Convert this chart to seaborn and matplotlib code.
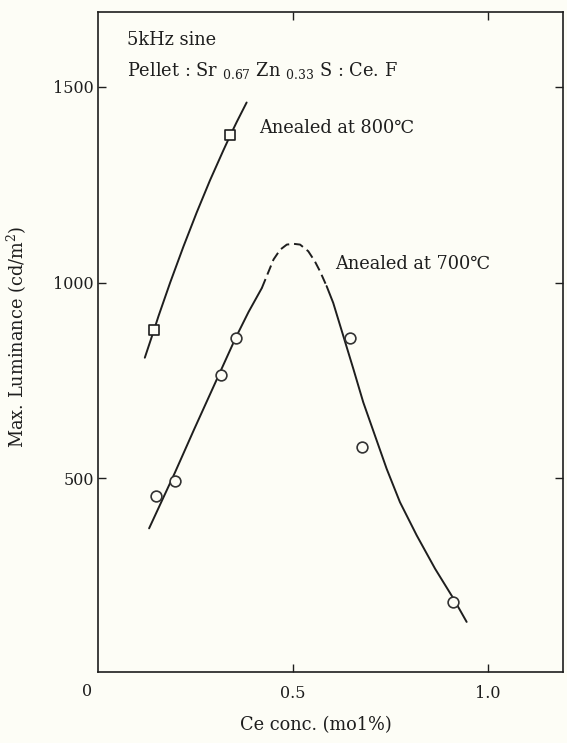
import matplotlib
matplotlib.use("Agg")
import matplotlib.pyplot as plt
import seaborn as sns

# ---- data ----
sq_x = [0.144, 0.339]
sq_y = [880, 1377]

circ_x = [0.148, 0.197, 0.315, 0.353, 0.646, 0.678, 0.911]
circ_y = [455, 492, 765, 859, 859, 580, 184]

curve800_x = [0.120, 0.144, 0.155, 0.185, 0.219, 0.253, 0.287, 0.321, 0.339, 0.356, 0.381]
curve800_y = [808, 880, 914, 1000, 1092, 1179, 1261, 1337, 1376, 1411, 1460]

rise700_x = [0.131, 0.197, 0.246, 0.312, 0.353, 0.386, 0.420]
rise700_y = [372, 514, 624, 769, 859, 925, 986]

peak700_x = [0.420, 0.450, 0.467, 0.484, 0.501, 0.518, 0.539, 0.556, 0.569, 0.586]
peak700_y = [986, 1059, 1084, 1097, 1099, 1097, 1080, 1054, 1029, 991]

fall700_x = [0.586, 0.603, 0.629, 0.655, 0.680, 0.710, 0.740, 0.774, 0.817, 0.864, 0.911, 0.945]
fall700_y = [991, 948, 863, 778, 694, 609, 524, 439, 354, 269, 193, 133]

x_ticks = [0.5, 1.0]
x_tick_labels = ["0.5", "1.0"]
y_ticks = [500, 1000, 1500]
y_tick_labels = ["500", "1000", "1500"]

# ---- style ----
sns.set_style("ticks")
SERIF = ["DejaVu Serif"]
plt.rcParams["font.family"] = SERIF
plt.rcParams["mathtext.fontset"] = "dejavuserif"

BG = "#fdfdf6"
INK = "#1e1e1e"
FS_TICK = 11.5
FS_TXT = 12.8
FS_LAB = 12.8

fig = plt.figure(figsize=(5.67, 7.43), dpi=100, facecolor=BG)
ax = fig.add_axes([98 / 567, 1 - 672 / 743, (563 - 98) / 567, (672 - 11.7) / 743])
ax.set_facecolor(BG)

lw = 1.4
sns.lineplot(x=curve800_x, y=curve800_y, sort=False, color=INK, lw=lw, ax=ax)
sns.lineplot(x=rise700_x, y=rise700_y, sort=False, color=INK, lw=lw, ax=ax)
sns.lineplot(x=fall700_x, y=fall700_y, sort=False, color=INK, lw=lw, ax=ax)
sns.lineplot(x=peak700_x, y=peak700_y, sort=False, color=INK, lw=lw, ax=ax)
ax.lines[-1].set_linestyle((0, (5, 2.5)))
for ln in ax.lines:
    ln.set_solid_joinstyle("round")
    ln.set_dash_joinstyle("round")

sns.scatterplot(x=sq_x, y=sq_y, marker="s", s=55, facecolor=BG,
                edgecolor=INK, linewidth=1.2, ax=ax, zorder=3)
sns.scatterplot(x=circ_x, y=circ_y, marker="o", s=60, facecolor=BG,
                edgecolor="#333333", linewidth=1.2, ax=ax, zorder=3)

ax.set_xlim(0, 1.192)
ax.set_ylim(5, 1692)

ax.set_xticks(x_ticks)
ax.set_xticklabels(x_tick_labels)
ax.set_yticks(y_ticks)
ax.set_yticklabels(y_tick_labels)
ax.tick_params(axis="both", direction="in", length=6, width=1.0, color=INK,
               labelsize=FS_TICK, labelcolor=INK, top=True, right=True)
ax.tick_params(axis="x", pad=9)
ax.tick_params(axis="y", pad=3)
for sp in ax.spines.values():
    sp.set_visible(True)
    sp.set_linewidth(1.2)
    sp.set_color(INK)

# origin label "0"
ax.annotate("0", xy=(0, 0), xycoords="axes fraction", xytext=(-11, -20),
            textcoords="offset pixels", ha="center", va="center",
            fontsize=FS_TICK, color=INK)

ax.set_xlabel("Ce conc. (mo1%)", fontsize=FS_LAB, color=INK)
ax.set_ylabel("Max. Luminance (cd/m$^2$)", fontsize=FS_LAB, color=INK)
ax.xaxis.set_label_coords((316 - 98) / (563 - 98), -(716 - 672) / (672 - 11.7))
ax.yaxis.set_label_coords(-(98 - 29) / (563 - 98), (672 - 337) / (672 - 11.7))

ax.text(0.074, 1607, "5kHz sine", fontsize=FS_TXT, color=INK, va="baseline")
ax.text(0.074, 1528,
        r"Pellet : Sr $_{\mathregular{0.67}}$ Zn $_{\mathregular{0.33}}$ S : Ce. F",
        fontsize=FS_TXT, color=INK, va="baseline")
ax.text(0.413, 1383, "Anealed at 800℃", fontsize=FS_TXT, color=INK, va="baseline")
ax.text(0.608, 1035, "Anealed at 700℃", fontsize=FS_TXT, color=INK, va="baseline")

fig.savefig("out.png", dpi=100, facecolor=BG)
